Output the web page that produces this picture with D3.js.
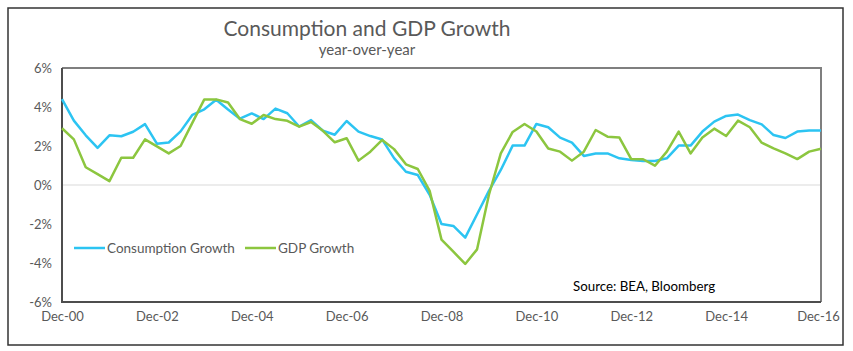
<html>
<head>
    <title>Consumption and GDP Growth</title>
    <script src="https://d3js.org/d3.v7.min.js"></script>
    <style>
        body { margin: 0; background: #fff; }
        * { font-family: Lato, sans-serif; }
    </style>
</head>
<body>
<svg id="chart" width="853" height="351"></svg>
<script>
// quarterly, Dec-00 .. Dec-16
const quarters = [
    "Dec-00","Mar-01","Jun-01","Sep-01","Dec-01","Mar-02","Jun-02","Sep-02","Dec-02",
    "Mar-03","Jun-03","Sep-03","Dec-03","Mar-04","Jun-04","Sep-04","Dec-04",
    "Mar-05","Jun-05","Sep-05","Dec-05","Mar-06","Jun-06","Sep-06","Dec-06",
    "Mar-07","Jun-07","Sep-07","Dec-07","Mar-08","Jun-08","Sep-08","Dec-08",
    "Mar-09","Jun-09","Sep-09","Dec-09","Mar-10","Jun-10","Sep-10","Dec-10",
    "Mar-11","Jun-11","Sep-11","Dec-11","Mar-12","Jun-12","Sep-12","Dec-12",
    "Mar-13","Jun-13","Sep-13","Dec-13","Mar-14","Jun-14","Sep-14","Dec-14",
    "Mar-15","Jun-15","Sep-15","Dec-15","Mar-16","Jun-16","Sep-16","Dec-16"
];

const consumption = [
    4.4, 3.3, 2.55, 1.9, 2.55, 2.5, 2.73, 3.12, 2.12, 2.18,
    2.75, 3.6, 3.88, 4.37, 3.87, 3.4, 3.67, 3.38, 3.92, 3.68,
    3.0, 3.33, 2.78, 2.58, 3.28, 2.74, 2.51, 2.33, 1.38, 0.68,
    0.51, -0.5, -2.0, -2.1, -2.7, -1.5, -0.3, 0.77, 2.02, 2.02,
    3.13, 2.96, 2.43, 2.17, 1.49, 1.62, 1.62, 1.37, 1.28, 1.23,
    1.23, 1.37, 2.02, 2.02, 2.74, 3.25, 3.54, 3.61, 3.33, 3.11,
    2.56, 2.41, 2.74, 2.8, 2.8
];

const gdp = [
    2.91, 2.34, 0.91, 0.56, 0.2, 1.4, 1.4, 2.34, 1.98, 1.62,
    2.0, 3.2, 4.39, 4.39, 4.23, 3.38, 3.14, 3.59, 3.38, 3.29,
    2.99, 3.23, 2.78, 2.19, 2.4, 1.25, 1.71, 2.31, 1.84, 1.06,
    0.82, -0.3, -2.8, -3.42, -4.05, -3.3, -0.5, 1.62, 2.72, 3.13,
    2.74, 1.87, 1.71, 1.25, 1.71, 2.82, 2.48, 2.43, 1.33, 1.32,
    0.99, 1.71, 2.74, 1.62, 2.44, 2.89, 2.51, 3.3, 2.96, 2.17,
    1.88, 1.62, 1.33, 1.71, 1.86
];

const yTicks = [-6, -4, -2, 0, 2, 4, 6];
const xTicks = ["Dec-00","Dec-02","Dec-04","Dec-06","Dec-08","Dec-10","Dec-12","Dec-14","Dec-16"];

const seriesNames = ["Consumption Growth", "GDP Growth"];
const colors = { "Consumption Growth": "#2cc4f2", "GDP Growth": "#8cc63f" };

let svg = d3.select("svg#chart");
const margin = { top: 68, right: 32, bottom: 49, left: 62 };
const width = svg.attr("width");
const height = svg.attr("height");
const chartWidth = width - margin.left - margin.right;
const chartHeight = height - margin.top - margin.bottom;

// outer frame
svg.append("rect")
    .attr("x", 8).attr("y", 8)
    .attr("width", 835).attr("height", 337)
    .attr("fill", "none")
    .attr("stroke", "#333")
    .attr("stroke-width", 1.5);

const xScale = d3.scalePoint().domain(quarters).range([0, chartWidth]);
const yScale = d3.scaleLinear().domain([-6, 6]).range([chartHeight, 0]);

let chartArea = svg.append("g")
    .attr("transform", `translate(${margin.left},${margin.top})`);

// zero line
chartArea.append("line")
    .attr("x1", 0).attr("x2", chartWidth)
    .attr("y1", yScale(0)).attr("y2", yScale(0))
    .attr("stroke", "#d9d9d9").attr("stroke-width", 1);

// plot border: top/right lighter, left/bottom darker
chartArea.append("path")
    .attr("d", `M0,0H${chartWidth}V${chartHeight}`)
    .attr("fill", "none").attr("stroke", "#7f7f7f").attr("stroke-width", 2);
chartArea.append("path")
    .attr("d", `M0,0V${chartHeight}H${chartWidth}`)
    .attr("fill", "none").attr("stroke", "#4d4d4d").attr("stroke-width", 2);

// axes
let leftAxis = d3.axisLeft(yScale).tickValues(yTicks).tickFormat(d => d + "%").tickSize(0).tickPadding(10);
let yAxisG = chartArea.append("g").call(leftAxis);
yAxisG.select(".domain").remove();
yAxisG.selectAll("text").style("font-size", "13px").attr("fill", "#595959");

let bottomAxis = d3.axisBottom(xScale).tickValues(xTicks).tickSize(0).tickPadding(10);
let xAxisG = chartArea.append("g").attr("transform", `translate(0,${chartHeight})`).call(bottomAxis);
xAxisG.select(".domain").remove();
xAxisG.selectAll("text").style("font-size", "13px").attr("fill", "#595959");
// last label sits a little inside the frame, as in the original
xAxisG.selectAll("text").filter(d => d === "Dec-16").attr("dx", "-3");

// lines
const lineGen = d3.line().x((d, i) => xScale(quarters[i])).y(d => yScale(d));
[[consumption, seriesNames[0]], [gdp, seriesNames[1]]].forEach(([vals, name]) => {
    chartArea.append("path")
        .datum(vals)
        .attr("d", lineGen)
        .attr("fill", "none")
        .attr("stroke", colors[name])
        .attr("stroke-width", 2.5)
        .attr("stroke-linejoin", "round");
});

// legend
const legendX = [74, 245];
seriesNames.forEach((name, i) => {
    svg.append("line")
        .attr("x1", legendX[i]).attr("x2", legendX[i] + 31)
        .attr("y1", 248).attr("y2", 248)
        .attr("stroke", colors[name]).attr("stroke-width", 2.5);
    svg.append("text")
        .attr("x", legendX[i] + 33).attr("y", 252.5)
        .style("font-size", "13.5px").attr("fill", "#595959")
        .text(name);
});

// titles
svg.append("text")
    .attr("x", 367).attr("y", 36)
    .attr("text-anchor", "middle")
    .style("font-size", "21px").attr("fill", "#595959")
    .text("Consumption and GDP Growth");
svg.append("text")
    .attr("x", 367).attr("y", 55)
    .attr("text-anchor", "middle")
    .style("font-size", "15px").attr("fill", "#595959")
    .text("year-over-year");

svg.append("text")
    .attr("x", 573).attr("y", 291)
    .style("font-size", "13.3px").attr("fill", "#000")
    .text("Source: BEA, Bloomberg");
</script>
</body>
</html>
